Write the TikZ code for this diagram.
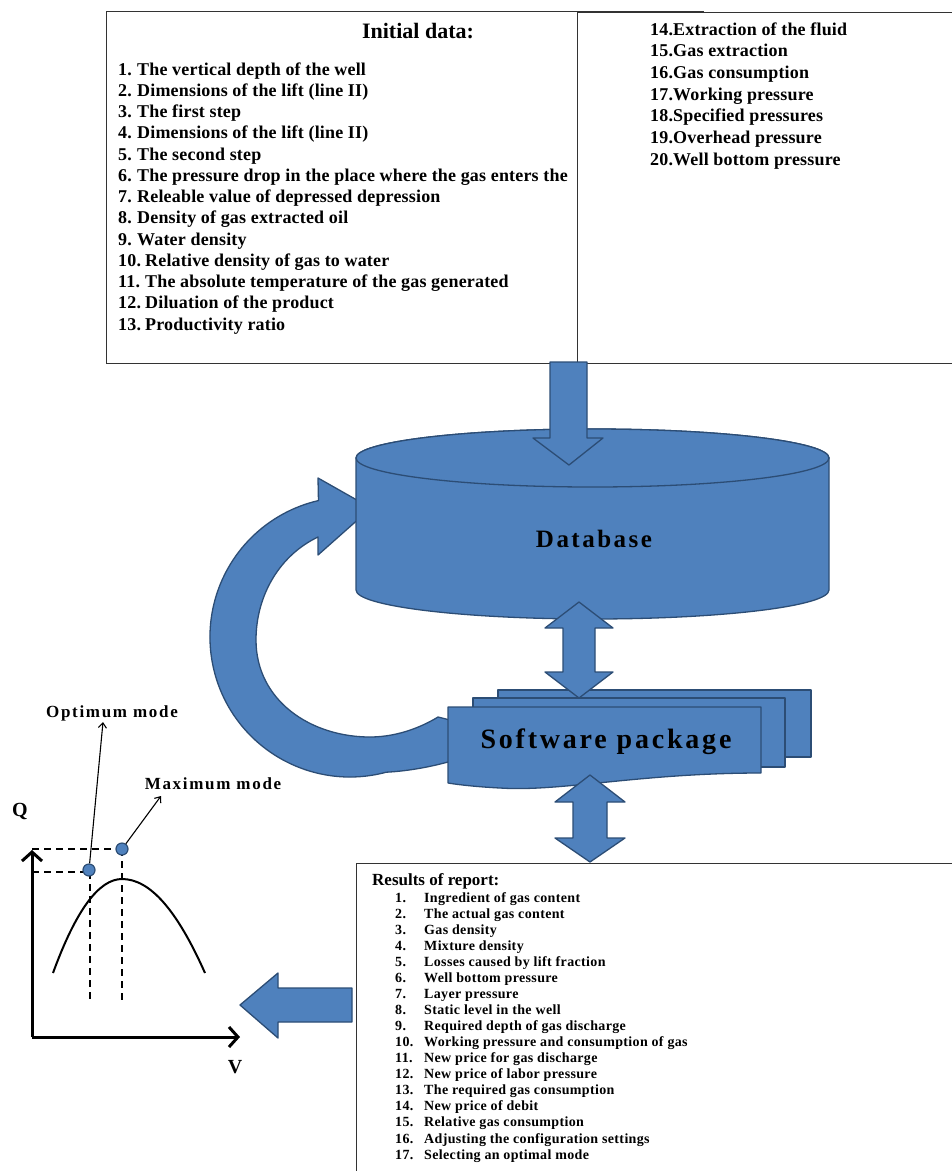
\documentclass[tikz,border=0pt]{standalone}
\usepackage{fontspec}
\setmainfont{Liberation Serif}
\usetikzlibrary{arrows.meta}
\definecolor{blu}{HTML}{4F81BD}
\definecolor{bluline}{HTML}{2C4D75}
\begin{document}
\begin{tikzpicture}[x=1pt,y=-1pt,
  blk/.style={fill=blu, draw=bluline, line width=1.3pt, line join=round},
  frame/.style={draw=black!80, line width=1pt, fill=white},
  itm/.style={anchor=base west, inner sep=0, font=\fontsize{18}{21}\selectfont\bfseries\addfontfeature{LetterSpace=1}},
  ritm/.style={anchor=base west, inner sep=0, font=\fontsize{14}{16}\selectfont\bfseries\addfontfeature{LetterSpace=2.5}},
  lbl/.style={inner sep=0, font=\fontsize{17}{20}\selectfont\bfseries\addfontfeature{LetterSpace=10}},
  dashln/.style={line width=1.6pt, dash pattern=on 7pt off 5pt},
  axis/.style={line width=3pt, -{Straight Barb[length=9pt,width=20pt]}},
  pointer/.style={line width=1.1pt, -{Straight Barb[length=5pt,width=8pt]}},
  dot/.style={circle, fill=blu, draw=bluline, line width=1.2pt, minimum size=12pt, inner sep=0}]
\useasboundingbox[fill=white] (0,0) rectangle (952,1171);

% ---------- Initial data boxes
\draw[frame] (106,11.5) rectangle (703,363);
\node[anchor=base, inner sep=0, font=\fontsize{22}{26}\selectfont\bfseries] (init) at (418,38) {Initial data:};
\foreach \t [count=\i] in {The vertical depth of the well,
  Dimensions of the lift (line II),
  The first step,
  Dimensions of the lift (line II),
  The second step,
  The pressure drop in the place where the gas enters the,
  Releable value of depressed depression,
  Density of gas extracted oil,
  Water density,
  Relative density of gas to water,
  The absolute temperature of the gas generated,
  Diluation of the product,
  Productivity ratio}{
  \node[itm] (in\i) at (118,{75+21.25*(\i-1)}) {\i.};
  \node[itm] (it\i) at ({ifthenelse(\i<10,137,145)},{75+21.25*(\i-1)}) {\t};
}
\draw[frame] (577,12.5) rectangle (953,363);
\foreach \t [count=\i from 14] in {14.Extraction of the fluid,
  15.Gas extraction,
  16.Gas consumption,
  17.Working pressure,
  18.Specified pressures,
  19.Overhead pressure,
  20.Well bottom pressure}{
  \node[itm] (jt\i) at (650,{35+21.67*(\i-14)}) {\t};
}

% ---------- curved arrow software -> database
\draw[blk] (318,478) -- (371,508) -- (318,555) -- (318,537)
  .. controls (280,555) and (256,595) .. (256,640)
  .. controls (256,700) and (310,737) .. (370,737)
  .. controls (400,737) and (425,725) .. (438,717)
  -- (470,725) -- (470,758) -- (455,760)
  .. controls (435,766) and (410,771) .. (386.2,772.2)
  arc[start angle=285, end angle=103, radius=140pt]
  -- cycle;

% ---------- Database cylinder
\draw[blk] (356,458) -- (356,590) arc[start angle=180,end angle=360,x radius=236.5pt,y radius=29pt]
  -- (829,458) arc[start angle=0,end angle=180,x radius=236.5pt,y radius=29pt] -- cycle;
\draw[blk] (592.5,458) ellipse[x radius=236.5pt, y radius=29pt];
\node[anchor=base, inner sep=0, font=\fontsize{25}{30}\selectfont\bfseries\addfontfeature{LetterSpace=10}] (db) at (594,547) {Database};

% ---------- arrow top box -> database
\draw[blk] (550,362) -- (587,362) -- (587,438) -- (603,438) -- (569,465) -- (533,438) -- (550,438) -- cycle;

% ---------- Software package
\draw[blk] (498,690) rectangle (811,757);
\draw[blk] (473,698) rectangle (785,767);
\draw[blk] (448,707) -- (761,707) -- (761,773)
  .. controls (640,773) and (560,792) .. (500,788)
  .. controls (480,787) and (460,785) .. (448,783) -- cycle;
\node[anchor=base, inner sep=0, font=\fontsize{28}{32}\selectfont\bfseries\addfontfeature{LetterSpace=10}] (sw) at (606,748) {Software package};

% ---------- double arrows
\draw[blk] (579,602) -- (613,628) -- (595,628) -- (595,672) -- (613,672) -- (579,698)
  -- (545,672) -- (563,672) -- (563,628) -- (545,628) -- cycle;
\draw[blk] (590,775) -- (625,802) -- (607,802) -- (607,838) -- (625,838) -- (590,862)
  -- (555,838) -- (573,838) -- (573,802) -- (555,802) -- cycle;

% ---------- Results box
\draw[frame] (356,863) rectangle (953,1180);
\node[anchor=base west, inner sep=0, font=\fontsize{17}{20}\selectfont\bfseries] (res) at (372,885) {Results of report:};
\foreach \t [count=\i] in {Ingredient of gas content,
  The actual gas content,
  Gas density,
  Mixture density,
  Losses caused by lift fraction,
  Well bottom pressure,
  Layer pressure,
  Static level in the well,
  Required depth of gas discharge,
  Working pressure and consumption of gas,
  New price for gas discharge,
  New price of labor pressure,
  The required gas consumption,
  New price of debit,
  Relative gas consumption,
  Adjusting the configuration settings,
  Selecting an optimal mode}{
  \node[ritm] (rn\i) at (395,{902+16.07*(\i-1)}) {\i.};
  \node[ritm] (rt\i) at (424,{902+16.07*(\i-1)}) {\t};
}

% ---------- left arrow
\draw[blk] (352,988) -- (352,1022) -- (278,1022) -- (278,1038) -- (240,1005) -- (278,973) -- (278,988) -- cycle;

% ---------- Graph
\coordinate (O) at (32,1037);
\coordinate (ytip) at (32,850);
\coordinate (xtip) at (240,1037);
\draw[axis] (O) -- (ytip);
\draw[axis] (O) -- (xtip);
\node[anchor=base, inner sep=0, font=\fontsize{20}{24}\selectfont\bfseries] (Q) at (20,816) {Q};
\node[anchor=base, inner sep=0, font=\fontsize{20}{24}\selectfont\bfseries] (V) at (235,1073) {V};
\draw[line width=2pt] (53,973) .. controls (76,910) and (99,879) .. (122,879)
  .. controls (150,879) and (177,910) .. (205,973);
\draw[dashln] (32,849) -- (122,849);
\draw[dashln] (32,872) -- (90,872);
\draw[dashln] (90,872) -- (90,1003);
\draw[dashln] (122,849) -- (122,1002);
\node[dot] (opt) at (89,870) {};
\node[dot] (max) at (122,849) {};
\coordinate (optend) at (103,722);
\coordinate (maxend) at (161,796);
\draw[pointer] (opt) -- (optend);
\draw[pointer] (max) -- (maxend);
\node[anchor=base, lbl] (optl) at (112,717) {Optimum mode};
\node[anchor=base, lbl] (maxl) at (213,789) {Maximum mode};
\end{tikzpicture}
\end{document}
